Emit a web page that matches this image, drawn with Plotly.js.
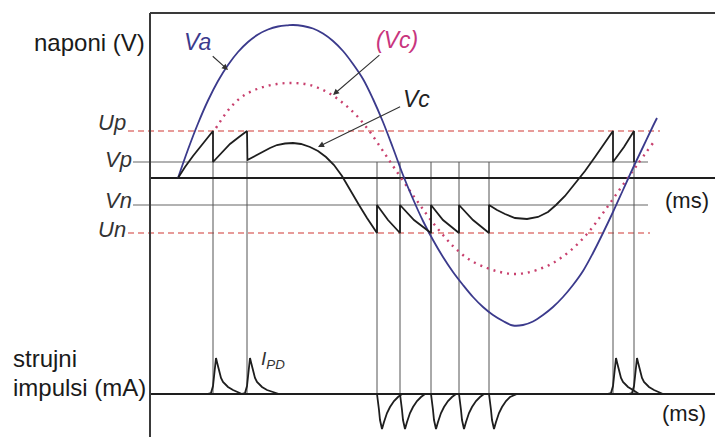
<!DOCTYPE html>
<html><head><meta charset="utf-8">
<script src="https://cdn.plot.ly/plotly-3.0.1.min.js"></script>
<style>html,body{margin:0;padding:0;background:#fff}#chart{width:715px;height:437px}</style>
</head><body><div id="chart"></div>
<script>
// ---- data (time in ms, voltage in relative V, current in mA) ----
const vaT = [0,0.5,1.0,1.5,2.0,2.5,3.0,3.5,4.0,4.5,5.0,5.5,5.75,6.25,6.75,7.25,7.75,8.25,8.75,9.25,9.75,10.25,10.75,11.25,11.75,12.25,12.75,13.25,13.75,14.25,14.75,15.25,15.75,16.25,16.75,17.25,17.75,18.25,18.75,19.25,19.75,20.25,20.75,21.25,21.75,22.25,22.75,23.25,23.75,23.95];
const vaV = [0,0.285,0.545,0.775,0.97,1.13,1.26,1.36,1.435,1.485,1.515,1.527,1.53,1.52,1.495,1.445,1.37,1.27,1.14,0.99,0.79,0.56,0.30,0.03,-0.21,-0.43,-0.62,-0.79,-0.94,-1.07,-1.19,-1.29,-1.37,-1.43,-1.475,-1.47,-1.435,-1.37,-1.29,-1.19,-1.07,-0.93,-0.75,-0.55,-0.34,-0.12,0.10,0.31,0.52,0.60];

const vcDotT = [1.90,2.60,3.25,4.10,4.95,5.75,6.60,7.45,8.25,8.95,9.60,10.25,10.85,11.60,12.10,12.60,13.25,13.85,14.60,15.45,16.10,16.75,17.35,17.95,18.75,19.60,20.45,21.25,22.10,22.95,23.75];
const vcDotV = [0.50,0.70,0.82,0.90,0.94,0.95,0.93,0.86,0.75,0.62,0.46,0.27,0.09,-0.13,-0.27,-0.41,-0.57,-0.70,-0.82,-0.90,-0.94,-0.96,-0.95,-0.92,-0.85,-0.73,-0.56,-0.35,-0.11,0.13,0.35];

const vcT = [0,0.35,0.75,1.25,1.75, 1.75,2.15,2.60,3.05,3.45, 3.47,3.85,4.25,4.60,4.95,5.35,5.75,6.15,6.60,7.00,7.40,7.80,8.20,8.60,9.05,9.45,9.95, 9.95,10.50,11.10, 11.10,11.80,12.65, 12.65,13.25,14.05, 14.05,14.75,15.55, 15.55,15.95,16.35,16.85,17.45,18.00,18.50,18.90,19.35,19.85,20.35,20.85,21.35,21.75, 21.75,22.30,22.80, 22.80];
const vcV = [0,0.11,0.22,0.35,0.47, 0.16,0.25,0.34,0.41,0.47, 0.18,0.22,0.27,0.30,0.33,0.345,0.35,0.34,0.31,0.27,0.21,0.13,0.02,-0.12,-0.27,-0.40,-0.55, -0.27,-0.42,-0.55, -0.27,-0.42,-0.55, -0.27,-0.42,-0.55, -0.27,-0.42,-0.55, -0.27,-0.32,-0.36,-0.40,-0.41,-0.39,-0.34,-0.27,-0.18,-0.06,0.07,0.21,0.35,0.47, 0.16,0.31,0.47, 0.16];

const levelNames = ['Up','Vp','Vn','Un'];
const levelV = [0.47, 0.16, -0.27, -0.55];
const levelStart = [-2.50, -2.25, -2.25, -2.50];
const levelEnd = [24.10, 23.50, 23.50, 23.60];

const posDischargeT = [1.75, 3.45, 21.75, 22.80];
const negDischargeT = [9.95, 11.10, 12.65, 14.05, 15.55];

const posPulseT = [1.45,1.65,1.75,1.82,1.90,1.96,2.05,2.15,2.25,2.50,2.75,3.20,null,
  3.15,3.35,3.45,3.52,3.60,3.66,3.75,3.85,3.95,4.20,4.45,5.05,null,
  21.45,21.65,21.75,21.82,21.90,21.96,22.05,22.15,22.25,22.50,22.75,23.05,null,
  22.50,22.70,22.80,22.87,22.95,23.01,23.10,23.20,23.30,23.55,23.80,24.25];
const posPulseI = [0,0.1,0.8,2.5,3.6,3.1,2.3,1.6,1.2,0.7,0.4,0,null,
  0,0.1,0.8,2.5,3.6,3.1,2.3,1.6,1.2,0.7,0.4,0,null,
  0,0.1,0.8,2.5,3.6,3.1,2.3,1.6,1.2,0.7,0.4,0,null,
  0,0.1,0.8,2.5,3.6,3.1,2.3,1.6,1.2,0.7,0.4,0];

const negPulseT = [9.95,10.00,10.05,10.10,10.20,10.30,10.45,10.60,10.80,11.00,11.20,null,
  11.10,11.15,11.20,11.25,11.35,11.45,11.60,11.75,11.95,12.15,12.35,null,
  12.65,12.70,12.75,12.80,12.90,13.00,13.15,13.30,13.50,13.70,13.90,null,
  14.05,14.10,14.15,14.20,14.30,14.40,14.55,14.70,14.90,15.10,15.30,null,
  15.55,15.60,15.65,15.70,15.80,15.90,16.05,16.20,16.40,16.60,16.95];
const negPulseI = [0,-0.6,-1.6,-2.6,-3.5,-2.8,-1.9,-1.3,-0.7,-0.3,0,null,
  0,-0.6,-1.6,-2.6,-3.5,-2.8,-1.9,-1.3,-0.7,-0.3,0,null,
  0,-0.6,-1.6,-2.6,-3.5,-2.8,-1.9,-1.3,-0.7,-0.3,0,null,
  0,-0.6,-1.6,-2.6,-3.5,-2.8,-1.9,-1.3,-0.7,-0.3,0,null,
  0,-0.6,-1.6,-2.6,-3.5,-2.8,-1.9,-1.3,-0.7,-0.3,0];

// ---- layout geometry ----
const xRange = [-8.9, 26.85];
const yRange = [-2.59, 1.78];
const y2Range = [-4.3, 39.4];
const frameLeft = -1.4, frameTop = 1.65;
const W = 715, H = 437;
// current-axis zero expressed on the voltage axis (same pixel row)
const baseV = yRange[0] + (0 - y2Range[0]) / (y2Range[1] - y2Range[0]) * (yRange[1] - yRange[0]);

const thin = '#555555', dark = '#1e1e1e';
const traces = [];
levelNames.forEach((n, i) => {
  const dashed = (n === 'Up' || n === 'Un');
  traces.push({x:[levelStart[i], levelEnd[i]], y:[levelV[i], levelV[i]], mode:'lines',
    line:{color: dashed ? '#e07b78' : '#666666', width: dashed ? 1.3 : 1.2, dash: dashed ? '6px,4px' : 'solid'},
    hoverinfo:'skip'});
});
const vx = [], vy = [];
posDischargeT.concat(negDischargeT).forEach(t => { vx.push(t, t, null); vy.push(levelV[1], baseV, null); });
traces.push({x:vx, y:vy, mode:'lines', line:{color:thin, width:1}, hoverinfo:'skip'});
traces.push({x:[frameLeft, xRange[1]], y:[0,0], mode:'lines', line:{color:dark, width:2}, hoverinfo:'skip'});
traces.push({x:[frameLeft, xRange[1]], y:[0,0], yaxis:'y2', mode:'lines', line:{color:dark, width:1.8}, hoverinfo:'skip'});
traces.push({x:vcDotT, y:vcDotV, mode:'lines', line:{color:'#c8406e', width:2.4, dash:'2px,5px', shape:'spline'}, hoverinfo:'skip'});
traces.push({x:vaT, y:vaV, mode:'lines', line:{color:'#3b3a8c', width:1.8, shape:'spline', smoothing:1}, hoverinfo:'skip'});
traces.push({x:vcT, y:vcV, mode:'lines', line:{color:dark, width:1.8}, hoverinfo:'skip'});
traces.push({x:posPulseT, y:posPulseI, yaxis:'y2', mode:'lines', line:{color:dark, width:1.8}, hoverinfo:'skip'});
traces.push({x:negPulseT, y:negPulseI, yaxis:'y2', mode:'lines', line:{color:dark, width:1.8}, hoverinfo:'skip'});

const px = v => v / W, py = v => 1 - v / H;
const F = 'Liberation Sans, Arial, sans-serif';
function txt(text, x, y, size, color, xanchor) {
  return {text, xref:'paper', yref:'paper', x:px(x), y:py(y), xanchor: xanchor || 'center', yanchor:'middle',
    showarrow:false, font:{family:F, size, color: color || '#1a1a1a'}};
}
// label placed at (tx,ty) with an arrow pointing at (hx,hy), all in data units
function label(text, tx, ty, hx, hy, size, color) {
  return {text, x:hx, y:hy, ax:tx, ay:ty, xref:'x', yref:'y', axref:'x', ayref:'y',
    font:{family:F, size, color},
    showarrow:true, arrowhead:2, arrowsize:1.1, arrowwidth:1.1, arrowcolor:'#333', standoff:0, startstandoff:1};
}
const annotations = [
  txt('naponi (V)', 147, 42, 24, '#1a1a1a', 'right'),
  txt('strujni', 11, 358, 24, '#1a1a1a', 'left'),
  txt('impulsi (mA)', 11, 387, 24, '#1a1a1a', 'left'),
  txt('<i>Up</i>', 128, 123, 22, '#333', 'right'),
  txt('<i>Vp</i>', 134, 160, 22, '#333', 'right'),
  txt('<i>Vn</i>', 134, 200, 22, '#333', 'right'),
  txt('<i>Un</i>', 128, 229, 22, '#333', 'right'),
  label('<i>Va</i>', 0.95, 1.36, 2.5, 1.08, 23, '#3b3a8c'),
  label('<i>(Vc)</i>', 10.95, 1.38, 7.75, 0.83, 23, '#c8357e'),
  label('<i>Vc</i>', 11.9, 0.79, 7.0, 0.31, 23, '#222'),
  txt('<i>I<sub>PD</sub></i>', 273, 360, 19, '#333'),
  txt('(ms)', 687, 200, 22, '#1a1a1a'),
  txt('(ms)', 684, 413, 22, '#1a1a1a')
];
const shapes = [
  {type:'line', xref:'x', yref:'y', x0:frameLeft, x1:frameLeft, y0:yRange[0], y1:frameTop, line:{color:'#3a3a3a', width:2}},
  {type:'line', xref:'x', yref:'y', x0:frameLeft, x1:xRange[1], y0:frameTop, y1:frameTop, line:{color:'#3a3a3a', width:2}}
];
const layout = {
  width:W, height:H, margin:{l:0,r:0,t:0,b:0}, paper_bgcolor:'#fff', plot_bgcolor:'#fff',
  showlegend:false, hovermode:false,
  xaxis:{range:xRange, visible:false, fixedrange:true},
  yaxis:{range:yRange, visible:false, fixedrange:true},
  yaxis2:{range:y2Range, overlaying:'y', visible:false, fixedrange:true},
  annotations, shapes
};
Plotly.newPlot('chart', traces, layout, {staticPlot:true, displayModeBar:false});
</script></body></html>
